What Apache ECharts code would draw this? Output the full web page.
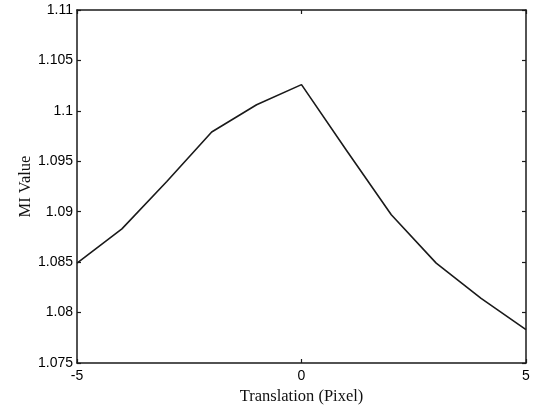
<!DOCTYPE html>
<html>
<head>
<meta charset="utf-8">
<script src="https://cdn.jsdelivr.net/npm/echarts@6/dist/echarts.min.js"></script>
<style>
  html, body { margin: 0; padding: 0; background: #fff; }
  #chart { width: 538px; height: 410px; }
</style>
</head>
<body>
<div id="chart"></div>
<script>
// translation offsets (pixel) and the mutual information measured at each
const shifts = [-5, -4, -3, -2, -1, 0, 1, 2, 3, 4, 5];
const miValues = [1.0849, 1.0883, 1.0930, 1.0979, 1.1006, 1.1026, 1.0961, 1.0897, 1.0849, 1.0814, 1.0783];
const xTicks = [-5, 0, 5];
const yRange = [1.075, 1.11];

let chart = echarts.init(document.getElementById('chart'));

const lineCol = '#1a1a1a';
const tickFont = { fontFamily: 'Liberation Sans', fontSize: 14, color: '#000' };
const titleFont = { fontFamily: 'Liberation Serif', fontSize: 16.5, color: '#111' };

function boxAxis(extra) {
	return Object.assign({
		axisLine: { show: true, onZero: false, lineStyle: { color: lineCol, width: 1.5 } },
		axisTick: { show: true, inside: true, length: 4, lineStyle: { color: lineCol, width: 1.2 } },
		splitLine: { show: false }
	}, extra);
}

let option = {
	animation: false,
	backgroundColor: '#fff',
	grid: { left: 77, right: 12, top: 10, bottom: 47 },
	xAxis: [
		boxAxis({
			type: 'value', min: xTicks[0], max: xTicks[xTicks.length - 1], interval: 5,
			position: 'bottom',
			axisLabel: Object.assign({ margin: 6 }, tickFont),
			name: 'Translation (Pixel)', nameLocation: 'middle', nameGap: 24,
			nameTextStyle: titleFont
		}),
		boxAxis({
			type: 'value', min: xTicks[0], max: xTicks[xTicks.length - 1], interval: 5,
			position: 'top', axisLabel: { show: false }
		})
	],
	yAxis: [
		boxAxis({
			type: 'value', min: yRange[0], max: yRange[1], interval: 0.005,
			position: 'left',
			axisLabel: Object.assign({ margin: 4 }, tickFont),
			name: 'MI Value', nameLocation: 'middle', nameGap: 43, nameMoveOverlap: false,
			nameTextStyle: titleFont
		}),
		boxAxis({
			type: 'value', min: yRange[0], max: yRange[1], interval: 0.005,
			position: 'right', axisLabel: { show: false }
		})
	],
	series: [{
		type: 'line',
		data: shifts.map((s, i) => [s, miValues[i]]),
		showSymbol: false,
		lineStyle: { color: lineCol, width: 1.6 },
		z: 3
	}]
};
chart.setOption(option);
</script>
</body>
</html>
